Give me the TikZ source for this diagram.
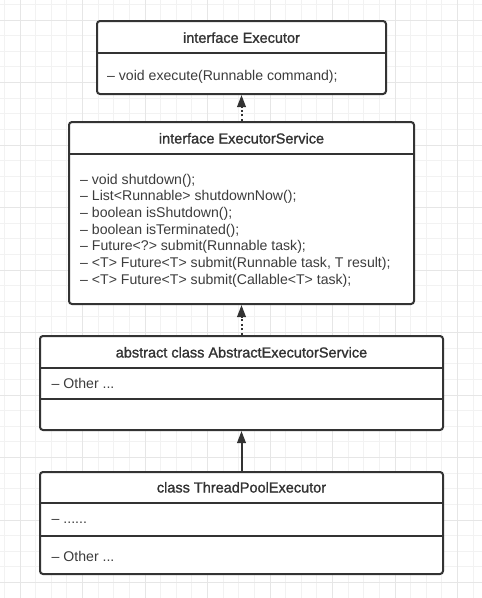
\documentclass[tikz,border=0pt]{standalone}
\usepackage{fontspec}
\setmainfont{Liberation Sans}
\newfontfamily\titlefont{Liberation Sans}[FakeBold=1.3]
\usetikzlibrary{arrows.meta}

\definecolor{ink}{HTML}{333333}
\definecolor{bodyink}{HTML}{3C3C3C}
\definecolor{gridminor}{HTML}{F2F2F2}
\definecolor{gridmajor}{HTML}{E6E6E6}

\begin{document}
\begin{tikzpicture}[x=1pt,y=-1pt,
  classbox/.style={draw=ink, line width=2pt, rounded corners=3pt, fill=white,
    inner sep=0pt, anchor=center},
  divider/.style={draw=ink, line width=2pt},
  titletext/.style={inner sep=0pt, anchor=base, text=ink,
    font=\titlefont\fontsize{14.5}{17}\selectfont},
  membertext/.style={inner sep=0pt, anchor=base west, text=bodyink,
    font=\fontsize{14.1}{17}\selectfont},
  realizes/.style={draw=ink, line width=2pt, dash pattern=on 2pt off 2.6pt,
    -{Triangle[width=8.5pt,length=12pt]}},
  extends/.style={draw=ink, line width=2pt,
    -{Triangle[width=8.5pt,length=12pt]}},
]
% page and background grid
\fill[white] (0,0) rectangle (482,598);
\useasboundingbox (0,0) rectangle (482,598);
\foreach \k [evaluate=\k as \p using 4.375+15.625*\k] in {0,...,30}
  \draw[gridminor, line width=0.9pt] (\p,0) -- (\p,598);
\foreach \k [evaluate=\k as \p using 4.375+15.625*\k] in {0,...,37}
  \draw[gridminor, line width=0.9pt] (0,\p) -- (482,\p);
\foreach \k [evaluate=\k as \p using 4.375+15.625*\k] in {1,5,...,29}
  \draw[gridmajor, line width=0.9pt] (\p,0) -- (\p,598);
\foreach \k [evaluate=\k as \p using 4.375+15.625*\k] in {1,5,...,37}
  \draw[gridmajor, line width=0.9pt] (0,\p) -- (482,\p);

% interface Executor
\node[classbox, minimum width=289pt, minimum height=73pt] (exec) at (241.5,57.5) {};
\draw[divider] (97,52.5) -- (386,52.5);
\node[titletext] (execT) at (241.5,42.8) {interface Executor};
\node[membertext] (execM) at (107,80.8) {– void execute(Runnable command);};

% interface ExecutorService
\node[classbox, minimum width=345pt, minimum height=182pt] (svc) at (241.5,213) {};
\draw[divider] (69,154) -- (414,154);
\node[titletext] (svcT) at (241.5,143.5) {interface ExecutorService};
\foreach \t [count=\i from 0] in {
    {– void shutdown();},
    {– List<Runnable> shutdownNow();},
    {– boolean isShutdown();},
    {– boolean isTerminated();},
    {– Future<?> submit(Runnable task);},
    {– <T> Future<T> submit(Runnable task, T result);},
    {– <T> Future<T> submit(Callable<T> task);}}
  \node[membertext] (svcM\i) at (80,184.3+16.67*\i) {\t};

% abstract class AbstractExecutorService
\node[classbox, minimum width=403pt, minimum height=94pt] (abs) at (241.5,383) {};
\draw[divider] (40,368) -- (443,368);
\draw[divider] (40,399) -- (443,399);
\node[titletext] (absT) at (241.5,357.5) {abstract class AbstractExecutorService};
\node[membertext] (absM) at (51.5,388.5) {– Other ...};

% class ThreadPoolExecutor
\node[classbox, minimum width=403pt, minimum height=102pt] (tpe) at (241.5,523) {};
\draw[divider] (40,503) -- (443,503);
\draw[divider] (40,536) -- (443,536);
\node[titletext] (tpeT) at (241.5,492.5) {class ThreadPoolExecutor};
\node[membertext] (tpeF) at (51.5,523.5) {– ......};
\node[membertext] (tpeM) at (51.5,561.8) {– Other ...};

% relations
\draw[realizes] (svc.north) -- (exec.south);
\draw[realizes] (abs.north) -- (svc.south);
\draw[extends] (tpe.north) -- (abs.south);
\end{tikzpicture}
\end{document}
